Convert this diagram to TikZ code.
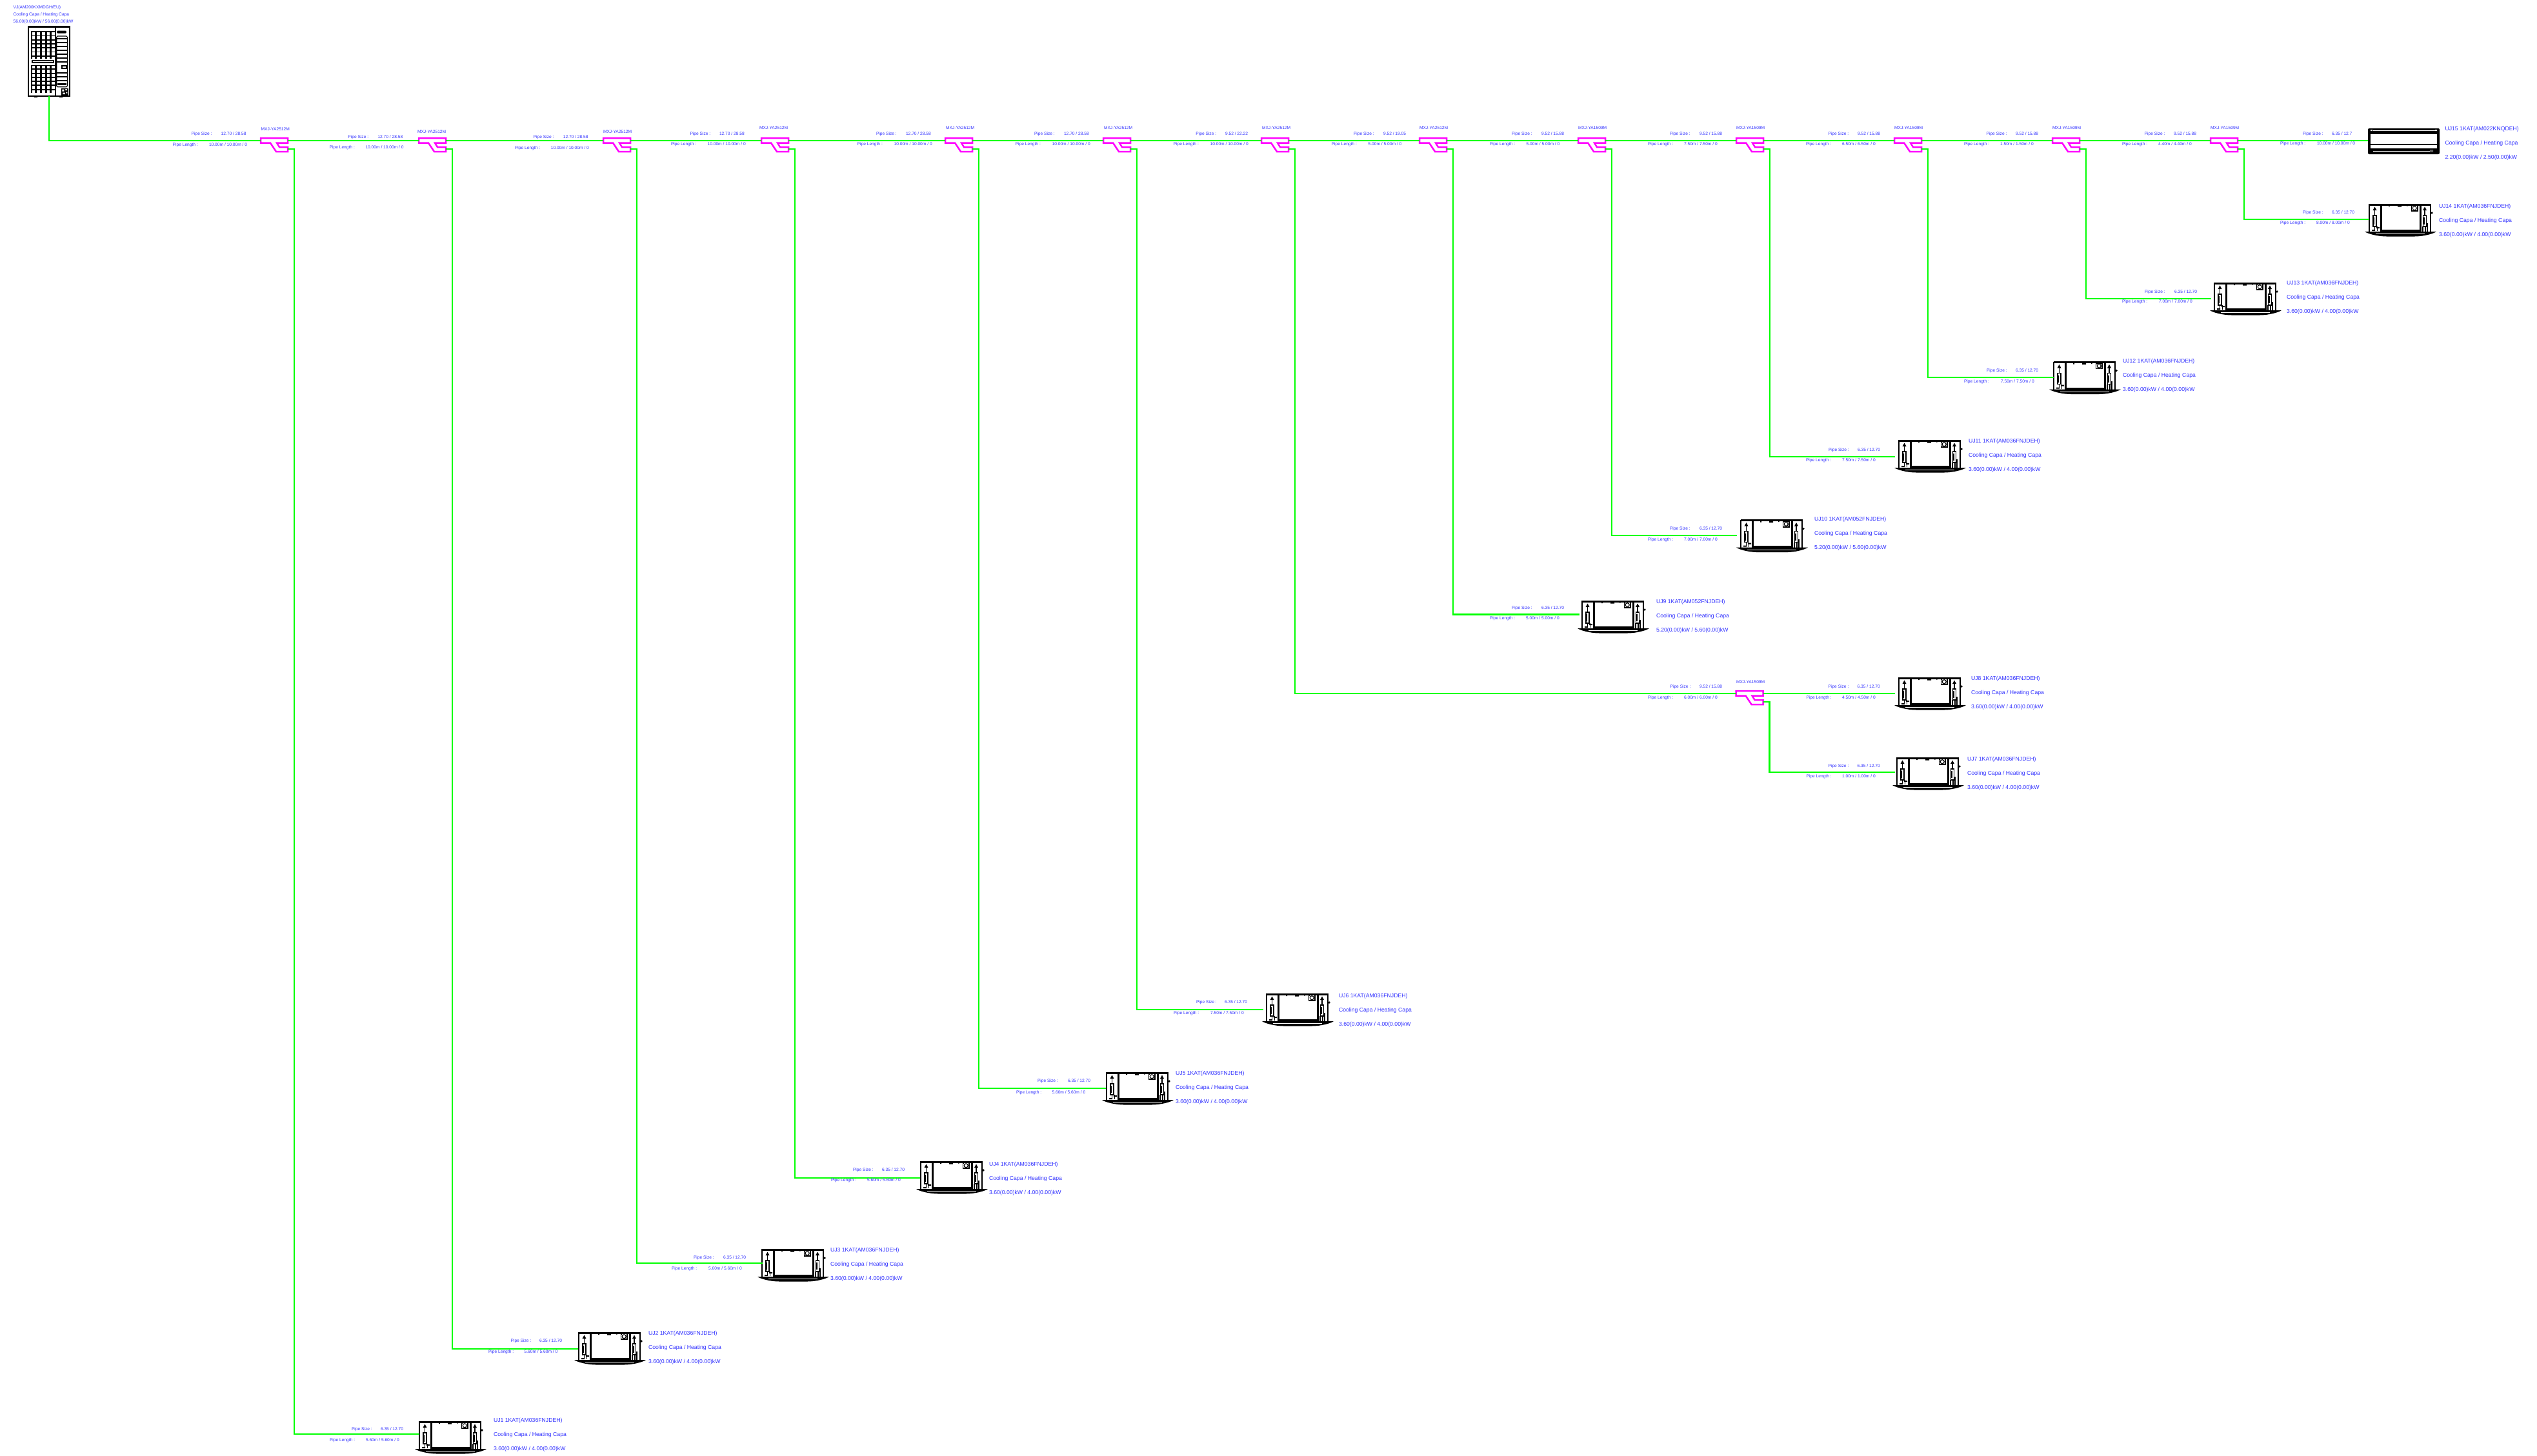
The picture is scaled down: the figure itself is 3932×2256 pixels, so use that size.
\documentclass[tikz,border=0pt]{standalone}
\usepackage{fontspec}
\setmainfont{Liberation Sans}
\definecolor{lbl}{RGB}{50,50,255}
\definecolor{pipegreen}{RGB}{0,255,0}
\definecolor{jointpink}{RGB}{255,0,255}
\tikzset{
  x=0.01cm,y=-0.01cm,
  pipe/.style={draw=pipegreen,line width=0.021cm,line join=miter},
  jointline/.style={draw=jointpink,line width=0.025cm,fill=white,line join=miter},
  smalltxt/.style={anchor=base west,inner sep=0pt,outer sep=0pt,text=lbl,font=\fontsize{1.89}{2.2}\selectfont},
  largetxt/.style={anchor=base west,inner sep=0pt,outer sep=0pt,text=lbl,font=\fontsize{2.47}{2.9}\selectfont},
  heavy/.style={draw=black,line width=0.03cm},
  medium/.style={draw=black,line width=0.018cm},
  fine/.style={draw=black,line width=0.011cm},
  joint/.pic={
    \path[jointline] (0,0)--(42,0)--(42,7.5)--(25,7.5)--(29,14)--(42,14)--(42,21)--(24,21)--(15,7.5)--(0,7.5)--cycle;
    \coordinate (-in) at (0,4);
    \coordinate (-out) at (42,4);
    \coordinate (-br) at (42,17);
  },
  cassette/.pic={
    \fill[white] (0,0) rectangle (95,43);
    \draw[heavy] (-0.5,1)--(95.5,1);
    \draw[medium] (0,0)--(0,43) (95,0)--(95,43);
    \draw[heavy] (18,0)--(18,43) (79,0)--(79,43);
    \fill[black] (17,40) rectangle (80,44);
    \fill[black] (30,2) rectangle (32,4) (44,2) rectangle (50,4.5) (58,2) rectangle (59.5,3.5);
    \draw[medium] (65.5,2.5) rectangle (75,11);
    \draw[fine] (70.2,6.7) circle (3);
    \fill[black] (65,2) rectangle (67,4) (73.5,9.5) rectangle (75.5,11.5);
    % left compartment
    \fill[black] (8.5,4.5)--(11.5,10)--(5.5,10)--cycle;
    \draw[medium] (8.5,9)--(8.5,18);
    \draw[fine] (6,18) rectangle (11,35);
    \draw[medium] (7.2,21)--(7.2,32);
    \draw[fine] (8.5,35)--(8.5,41) (12.5,35)--(12.5,42);
    \fill[black] (11,36) rectangle (16,38) (4,40) rectangle (9,42);
    % right compartment
    \fill[black] (86,4.5)--(89,10)--(83,10)--cycle;
    \draw[medium] (86,9)--(86,18);
    \draw[fine] (83.5,18) rectangle (88.5,35);
    \draw[medium] (84.7,21)--(84.7,32);
    \draw[fine] (83,35)--(83,43) (87,35)--(87,43) (90,30)--(90,43);
    \fill[black] (97,14) circle (1.8);
    % tray
    \fill[black] (-7,43)--(104,43) .. controls (100,46) and (85,50.5) .. (70,50.5) -- (27,50.5) .. controls (12,50.5) and (-3,46) .. (-7,43) -- cycle;
    \draw[white,line width=0.005cm] (10,46.5)--(86,46.5);
  },
  wallunit/.pic={
    \fill[black,rounded corners=0.02cm] (0,0) rectangle (111,40);
    \fill[white] (4,8.5) rectangle (107,24);
    \fill[white] (4,26) rectangle (107,30.5);
    \draw[white,line width=0.007cm] (8,3.5)--(104,3.5);
    \draw[white,line width=0.007cm] (8,35)--(96,35);
    \fill[white] (4,2) rectangle (7,4) (104,2) rectangle (107,4);
    \fill[white] (96,33.5) rectangle (101,34.3) (96,35.5) rectangle (101,36.3);
  },
  outdoor/.pic={
    \fill[white] (0,0) rectangle (63.4,108);
    \draw[medium] (0,0) rectangle (63.4,108);
    \draw[heavy] (0,1)--(63.4,1);
    \draw[medium] (42,0)--(42,108);
    \fill[black] (3.2,7.3) rectangle (41.2,50);
    \fill[black] (3.2,60.3) rectangle (41.2,103.3);
    \foreach \cx in {0,...,4}{\foreach \cy in {0,...,6}{
      \fill[white] (5.4+7.6*\cx,9.3+6.25*\cy) rectangle ++(4.6,4.5);
      \fill[white] (5.4+7.6*\cx,61.3+6.25*\cy) rectangle ++(4.6,4.3);
    }}
    \draw[medium,fill=white] (5.7,53) rectangle (38.7,56.3);
    \fill[black,rounded corners=0.015cm] (43.7,7) rectangle (58.7,11);
    \draw[fine,rounded corners=0.015cm] (43.4,15.3) rectangle (60,94);
    \foreach \ly in {19.3,25,31,37,43.3,49.3,55.3,72.6,78.6,84.6}{\draw[medium] (43.4,\ly)--(60,\ly);}
    \fill[black] (44.5,88.5) rectangle (59,91.5);
    \draw[medium,fill=white] (52,61.6) rectangle (58.7,65);
    \fill[black] (50.7,96.3) rectangle (61.7,107.3);
    \fill[white] (52,98) rectangle (55,101) (57,97.5) rectangle (59.5,99.5) (53,103) rectangle (56.5,105.5) (58,102) rectangle (60,104);
    \fill[black] (8.7,108) rectangle (13.7,110.5) (47.7,108) rectangle (53,110.5);
    \coordinate (-port) at (31.7,108);
  },
}
% name, size x, size value x, size y, size text, length x, length value x, length y, length text
\newcommand{\pipelabels}[9]{%
  \node[smalltxt] (#1-sl) at (#2,#4+2.4) {Pipe Size :};
  \node[smalltxt] (#1-sv) at (#3,#4+2.4) {#5};
  \node[smalltxt] (#1-ll) at (#6,#8+2.4) {Pipe Length :};
  \node[smalltxt] (#1-lv) at (#7,#8+2.4) {#9};
}
% name, x, first line centre y, title, capacity line
\newcommand{\unittext}[5]{%
  \node[largetxt] (#1-t1) at (#2,#3+3.1) {#4};
  \node[largetxt] (#1-t2) at (#2,#3+25.1) {Cooling Capa / Heating Capa};
  \node[largetxt] (#1-t3) at (#2,#3+47.1) {#5};
}
\begin{document}
\begin{tikzpicture}
\useasboundingbox[fill=white] (0,0) rectangle (3932,2256);

% outdoor unit
\pic (odu) at (44.3,40.7) {outdoor};
\node[smalltxt] (odu-t1) at (20.7,13.1) {VJ(AM200KXMDGH/EU)};
\node[smalltxt] (odu-t2) at (20.7,24.1) {Cooling Capa / Heating Capa};
\node[smalltxt] (odu-t3) at (20.7,35.1) {56.00(0.00)kW / 56.00(0.00)kW};

% joints
\pic (j1) at (404,214) {joint};
\pic (j2) at (649,214) {joint};
\pic (j3) at (935,214) {joint};
\pic (j4) at (1180,214) {joint};
\pic (j5) at (1465,214) {joint};
\pic (j6) at (1710,214) {joint};
\pic (j7) at (1955,214) {joint};
\pic (j8) at (2200,214) {joint};
\pic (j9) at (2446,214) {joint};
\pic (j10) at (2691,214) {joint};
\pic (j11) at (2936,214) {joint};
\pic (j12) at (3181,214) {joint};
\pic (j13) at (3426,214) {joint};
\pic (j14) at (2690.5,1071) {joint};

\node[smalltxt] (j1-m) at (404.7,202.1) {MXJ-YA2512M};
\node[smalltxt] (j2-m) at (647,206.1) {MXJ-YA2512M};
\node[smalltxt] (j3-m) at (935,206.4) {MXJ-YA2512M};
\node[smalltxt] (j4-m) at (1177,200.7) {MXJ-YA2512M};
\node[smalltxt] (j5-m) at (1466,200.7) {MXJ-YA2512M};
\node[smalltxt] (j6-m) at (1711,200.7) {MXJ-YA2512M};
\node[smalltxt] (j7-m) at (1956,200.7) {MXJ-YA2512M};
\node[smalltxt] (j8-m) at (2200,200.7) {MXJ-YA2512M};
\node[smalltxt] (j9-m) at (2446,200.7) {MXJ-YA1509M};
\node[smalltxt] (j10-m) at (2691,200.7) {MXJ-YA1509M};
\node[smalltxt] (j11-m) at (2936,200.7) {MXJ-YA1509M};
\node[smalltxt] (j12-m) at (3181,200.7) {MXJ-YA1509M};
\node[smalltxt] (j13-m) at (3426,200.7) {MXJ-YA1509M};
\node[smalltxt] (j14-m) at (2691,1059.1) {MXJ-YA1509M};

% trunk labels
\pipelabels{a1}{296.7}{342.7}{206.7}{12.70 / 28.58}{267.7}{324}{223.7}{10.00m / 10.00m / 0}
\pipelabels{a2}{539.4}{585.5}{211.7}{12.70 / 28.58}{510.7}{566.5}{227.7}{10.00m / 10.00m / 0}
\pipelabels{a3}{826.7}{872.8}{211.7}{12.70 / 28.58}{798}{853.8}{228.7}{10.00m / 10.00m / 0}
\pipelabels{a4}{1069.5}{1115}{206.7}{12.70 / 28.58}{1040}{1096.6}{222.7}{10.00m / 10.00m / 0}
\pipelabels{a5}{1358}{1404}{206.7}{12.70 / 28.58}{1328.7}{1385.6}{222.7}{10.00m / 10.00m / 0}
\pipelabels{a6}{1603}{1649}{206.7}{12.70 / 28.58}{1573.7}{1630.6}{222.7}{10.00m / 10.00m / 0}
\pipelabels{a7}{1853.4}{1899}{206.7}{9.52 / 22.22}{1818.7}{1875.6}{222.7}{10.00m / 10.00m / 0}
\pipelabels{a8}{2098}{2144}{206.7}{9.52 / 19.05}{2063.7}{2120.6}{222.7}{5.00m / 5.00m / 0}
\pipelabels{a9}{2343}{2389}{206.7}{9.52 / 15.88}{2309}{2365.6}{222.7}{5.00m / 5.00m / 0}
\pipelabels{a10}{2588}{2634}{206.7}{9.52 / 15.88}{2554}{2610}{222.7}{7.50m / 7.50m / 0}
\pipelabels{a11}{2833.5}{2879}{206.7}{9.52 / 15.88}{2799}{2855}{222.7}{6.50m / 6.50m / 0}
\pipelabels{a12}{3078.6}{3124}{206.7}{9.52 / 15.88}{3044}{3100}{222.7}{1.50m / 1.50m / 0}
\pipelabels{a13}{3323.7}{3369}{206.7}{9.52 / 15.88}{3289}{3345}{222.7}{4.40m / 4.40m / 0}
\pipelabels{a14}{2588.6}{2634}{1063.7}{9.52 / 15.88}{2554}{2610}{1080.7}{6.00m / 6.00m / 0}

% indoor units: symbol and pipe end
\pic (uj1) at (650,2203) {cassette};   \coordinate (uj1-port) at (650,2223);
\pic (uj2) at (897,2065) {cassette};   \coordinate (uj2-port) at (896,2090.6);
\pic (uj3) at (1181,1936) {cassette};  \coordinate (uj3-port) at (1182,1958);
\pic (uj4) at (1427,1800) {cassette};  \coordinate (uj4-port) at (1426,1825.7);
\pic (uj5) at (1715,1662) {cassette};  \coordinate (uj5-port) at (1714,1687);
\pic (uj6) at (1963,1540) {cassette};  \coordinate (uj6-port) at (1958,1565);
\pic (uj7) at (2940,1174) {cassette};  \coordinate (uj7-port) at (2937,1197);
\pic (uj8) at (2943,1050) {cassette};  \coordinate (uj8-port) at (2937,1075);
\pic (uj9) at (2452,931) {cassette};   \coordinate (uj9-port) at (2448,952.5);
\pic (uj10) at (2698,805.6) {cassette};\coordinate (uj10-port) at (2692,830);
\pic (uj11) at (2943,682) {cassette};  \coordinate (uj11-port) at (2937,708);
\pic (uj12) at (3183,560.5) {cassette};\coordinate (uj12-port) at (3183,585);
\pic (uj13) at (3432,438) {cassette};  \coordinate (uj13-port) at (3427,463);
\pic (uj14) at (3672,316) {cassette};  \coordinate (uj14-port) at (3672,340);
\pic (uj15) at (3670,199) {wallunit};  \coordinate (uj15-port) at (3670,218);

% connectors
\draw[pipe] (odu-port) |- (j1-in);
\draw[pipe] (j1-out) -- (j2-in);
\draw[pipe] (j2-out) -- (j3-in);
\draw[pipe] (j3-out) -- (j4-in);
\draw[pipe] (j4-out) -- (j5-in);
\draw[pipe] (j5-out) -- (j6-in);
\draw[pipe] (j6-out) -- (j7-in);
\draw[pipe] (j7-out) -- (j8-in);
\draw[pipe] (j8-out) -- (j9-in);
\draw[pipe] (j9-out) -- (j10-in);
\draw[pipe] (j10-out) -- (j11-in);
\draw[pipe] (j11-out) -- (j12-in);
\draw[pipe] (j12-out) -- (j13-in);
\draw[pipe] (j13-out) -- (uj15-port);
\draw[pipe] (j14-out) -- (uj8-port);
\draw[pipe] (j1-br) -- ++(10,0) |- (uj1-port);
\draw[pipe] (j2-br) -- ++(10,0) |- (uj2-port);
\draw[pipe] (j3-br) -- ++(10,0) |- (uj3-port);
\draw[pipe] (j4-br) -- ++(10,0) |- (uj4-port);
\draw[pipe] (j5-br) -- ++(10,0) |- (uj5-port);
\draw[pipe] (j6-br) -- ++(10,0) |- (uj6-port);
\draw[pipe] (j7-br) -- ++(10,0) |- (j14-in);
\draw[pipe] (j8-br) -- ++(10,0) |- (uj9-port);
\draw[pipe] (j9-br) -- ++(10,0) |- (uj10-port);
\draw[pipe] (j10-br) -- ++(10,0) |- (uj11-port);
\draw[pipe] (j11-br) -- ++(10,0) |- (uj12-port);
\draw[pipe] (j12-br) -- ++(10,0) |- (uj13-port);
\draw[pipe] (j13-br) -- ++(10,0) |- (uj14-port);
\draw[pipe] (j14-br) -- ++(10,0) |- (uj7-port);

% unit pipe labels
\pipelabels{b1}{545}{590}{2214.7}{6.35 / 12.70}{511}{567}{2232}{5.60m / 5.60m / 0}
\pipelabels{b2}{791.6}{836}{2078}{6.35 / 12.70}{757}{812.6}{2094.7}{5.60m / 5.60m / 0}
\pipelabels{b3}{1075}{1121}{1949}{6.35 / 12.70}{1041}{1098}{1965.7}{5.60m / 5.60m / 0}
\pipelabels{b4}{1322}{1367}{1813.5}{6.35 / 12.70}{1288}{1344}{1829.4}{5.60m / 5.60m / 0}
\pipelabels{b5}{1608}{1655}{1675.5}{6.35 / 12.70}{1575}{1630.5}{1692.7}{5.60m / 5.60m / 0}
\pipelabels{b6}{1854}{1898}{1553.5}{6.35 / 12.70}{1819}{1876}{1570}{7.50m / 7.50m / 0}
\pipelabels{b7}{2833.6}{2878.6}{1186.7}{6.35 / 12.70}{2799.5}{2855}{1202.7}{1.00m / 1.00m / 0}
\pipelabels{b8}{2833.6}{2878.6}{1063.7}{6.35 / 12.70}{2799.5}{2855}{1080.7}{4.50m / 4.50m / 0}
\pipelabels{b9}{2343}{2389}{941.6}{6.35 / 12.70}{2309}{2365}{957.6}{5.00m / 5.00m / 0}
\pipelabels{b10}{2588}{2634}{819}{6.35 / 12.70}{2554}{2610}{836}{7.00m / 7.00m / 0}
\pipelabels{b11}{2834}{2879}{697}{6.35 / 12.70}{2799}{2855}{713}{7.50m / 7.50m / 0}
\pipelabels{b12}{3079}{3124}{574}{6.35 / 12.70}{3044}{3101}{590.7}{7.50m / 7.50m / 0}
\pipelabels{b13}{3324}{3370}{452}{6.35 / 12.70}{3289}{3346}{467.5}{7.00m / 7.00m / 0}
\pipelabels{b14}{3569}{3614}{328.7}{6.35 / 12.70}{3534}{3590}{345}{8.00m / 8.00m / 0}
\pipelabels{b15}{3569}{3614}{206.7}{6.35 / 12.7}{3534}{3591}{222.3}{10.00m / 10.00m / 0}

% unit texts
\unittext{uj1}{765}{2201}{UJ1 1KAT(AM036FNJDEH)}{3.60(0.00)kW / 4.00(0.00)kW}
\unittext{uj2}{1005}{2066}{UJ2 1KAT(AM036FNJDEH)}{3.60(0.00)kW / 4.00(0.00)kW}
\unittext{uj3}{1287}{1937}{UJ3 1KAT(AM036FNJDEH)}{3.60(0.00)kW / 4.00(0.00)kW}
\unittext{uj4}{1533}{1804}{UJ4 1KAT(AM036FNJDEH)}{3.60(0.00)kW / 4.00(0.00)kW}
\unittext{uj5}{1822}{1663}{UJ5 1KAT(AM036FNJDEH)}{3.60(0.00)kW / 4.00(0.00)kW}
\unittext{uj6}{2075}{1543}{UJ6 1KAT(AM036FNJDEH)}{3.60(0.00)kW / 4.00(0.00)kW}
\unittext{uj7}{3049}{1176}{UJ7 1KAT(AM036FNJDEH)}{3.60(0.00)kW / 4.00(0.00)kW}
\unittext{uj8}{3055}{1051}{UJ8 1KAT(AM036FNJDEH)}{3.60(0.00)kW / 4.00(0.00)kW}
\unittext{uj9}{2567}{932}{UJ9 1KAT(AM052FNJDEH)}{5.20(0.00)kW / 5.60(0.00)kW}
\unittext{uj10}{2812}{804}{UJ10 1KAT(AM052FNJDEH)}{5.20(0.00)kW / 5.60(0.00)kW}
\unittext{uj11}{3051}{683}{UJ11 1KAT(AM036FNJDEH)}{3.60(0.00)kW / 4.00(0.00)kW}
\unittext{uj12}{3290}{559}{UJ12 1KAT(AM036FNJDEH)}{3.60(0.00)kW / 4.00(0.00)kW}
\unittext{uj13}{3544}{438}{UJ13 1KAT(AM036FNJDEH)}{3.60(0.00)kW / 4.00(0.00)kW}
\unittext{uj14}{3780}{319}{UJ14 1KAT(AM036FNJDEH)}{3.60(0.00)kW / 4.00(0.00)kW}
\unittext{uj15}{3789.5}{199}{UJ15 1KAT(AM022KNQDEH)}{2.20(0.00)kW / 2.50(0.00)kW}
\end{tikzpicture}
\end{document}
